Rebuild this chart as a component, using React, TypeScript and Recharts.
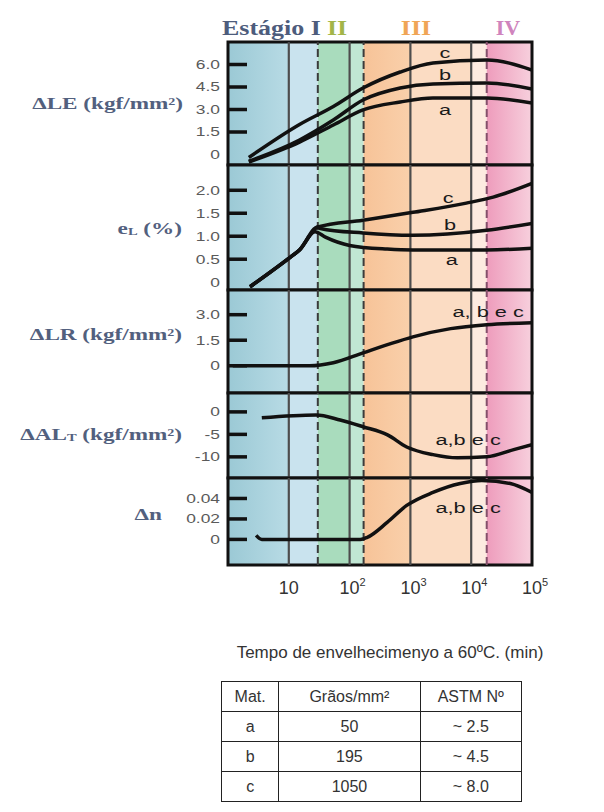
import React from 'react'
import { LineChart, Line, XAxis, YAxis, ReferenceArea, ReferenceLine, ReferenceDot } from 'recharts'

// ---- values (time in minutes, log axis) ----
const xTicks = [10, 100, 1000, 10000, 100000]
const decadeLines = [10, 100, 1000, 10000]
const stageEdges = [30, 170, 18000]
const bandEdges = [1, 10, 30, 100, 170, 1000, 10000, 18000, 100000]

// ΔLE (kgf/mm²)
const leTime = [2.2, 15, 54, 166, 680, 2350, 18000, 100000]
const leA = [-0.5, 0.83, 1.97, 2.97, 3.5, 3.77, 3.77, 3.43]
const leB = [-0.45, 0.97, 2.3, 3.63, 4.43, 4.7, 4.77, 4.37]
const leC = [-0.2, 2.0, 3.2, 4.43, 5.5, 6.1, 6.3, 5.63]

// eL (%)
const elTimeA = [2.3, 10.5, 15, 27, 40, 100, 415, 1100, 18000, 100000]
const elA = [-0.1, 0.54, 0.7, 1.1, 0.98, 0.8, 0.72, 0.7, 0.7, 0.74]
const elTimeB = [2.3, 10.5, 15, 30, 33, 166, 1100, 18000, 100000]
const elB = [-0.1, 0.54, 0.7, 1.2, 1.17, 1.07, 1.02, 1.13, 1.28]
const elTimeC = [2.3, 10.5, 15, 30, 166, 1100, 8300, 23000, 100000]
const elC = [-0.1, 0.54, 0.7, 1.2, 1.35, 1.52, 1.72, 1.85, 2.15]

// ΔLR (kgf/mm²), a, b e c
const lrTime = [1.2, 22, 54, 166, 420, 1100, 4600, 18000, 100000]
const lrAll = [0, 0, 0.18, 0.76, 1.24, 1.7, 2.18, 2.41, 2.53]

// ΔALT (kgf/mm²), a, b e c
const alTime = [3.6, 28, 70, 166, 420, 870, 2350, 5900, 18000, 50000, 100000]
const alAll = [-1.33, -0.7, -1.8, -3.3, -5.1, -7.8, -9.5, -10.2, -10, -8.4, -7.3]

// Δn, a, b e c
const nTime = [2.9, 3.6, 150, 195, 415, 870, 2350, 6600, 15000, 44000, 100000]
const nAll = [0.004, 0, 0, 0.002, 0.0166, 0.0332, 0.0459, 0.0546, 0.0576, 0.0546, 0.0459]

// curve annotations [text, time, value]
const leNotes: [string, number, number][] = [['c', 3700, 6.77], ['b', 3700, 5.3], ['a', 3700, 2.97]]
const elNotes: [string, number, number][] = [['c', 4200, 1.83], ['b', 4500, 1.24], ['a', 4800, 0.48]]
const lrNotes: [string, number, number][] = [['a, b e c', 19000, 3.18]]
const alNotes: [string, number, number][] = [['a,b e c', 8900, -6.2]]
const nNotes: [string, number, number][] = [['a,b e c', 8900, 0.031]]

// table
const tableHead = ['Mat.', 'Grãos/mm²', 'ASTM Nº']
const materials = ['a', 'b', 'c']
const grains = [50, 195, 1050]
const astm = [2.5, 4.5, 8.0]

const SERIF = '"Liberation Serif", "Times New Roman", serif'
const SANS = '"Liberation Sans", Arial, sans-serif'
const SX = 1.45 // the scan is stretched sideways
const INK = '#111'
const PLOT_LEFT = 228
const PLOT_RIGHT = 532

function merge(series: { key: string; t: number[]; v: number[] }[]) {
  const map = new Map<number, any>()
  series.forEach(s => s.t.forEach((t, i) => {
    const row = map.get(t) ?? { t }
    row[s.key] = s.v[i]
    map.set(t, row)
  }))
  return [...map.values()].sort((p, q) => p.t - q.t)
}

const panels = [
  {
    id: 'le', top: 42, bottom: 165, domain: [-0.7, 7.5], ticks: [0, 1.5, 3, 4.5, 6], digits: 1, zeroMark: false,
    keys: ['a', 'b', 'c'], notes: leNotes,
    rows: merge([{ key: 'a', t: leTime, v: leA }, { key: 'b', t: leTime, v: leB }, { key: 'c', t: leTime, v: leC }]),
  },
  {
    id: 'el', top: 165, bottom: 290, domain: [-0.17, 2.55], ticks: [0, 0.5, 1, 1.5, 2], digits: 1, zeroMark: false,
    keys: ['a', 'b', 'c'], notes: elNotes,
    rows: merge([{ key: 'a', t: elTimeA, v: elA }, { key: 'b', t: elTimeB, v: elB }, { key: 'c', t: elTimeC, v: elC }]),
  },
  {
    id: 'lr', top: 290, bottom: 393, domain: [-1.6, 4.45], ticks: [0, 1.5, 3], digits: 1, zeroMark: true,
    keys: ['all'], notes: lrNotes, rows: merge([{ key: 'all', t: lrTime, v: lrAll }]),
  },
  {
    id: 'al', top: 393, bottom: 478, domain: [-14.7, 4.2], ticks: [-10, -5, 0], digits: 0, zeroMark: true,
    keys: ['all'], notes: alNotes, rows: merge([{ key: 'all', t: alTime, v: alAll }]),
  },
  {
    id: 'n', top: 478, bottom: 565, domain: [-0.025, 0.06], ticks: [0, 0.02, 0.04], digits: 2, zeroMark: true,
    keys: ['all'], notes: nNotes, rows: merge([{ key: 'all', t: nTime, v: nAll }]),
  },
]

function YTick(props: any) {
  const { x, y, payload, digits } = props
  const v = payload.value
  const text = v === 0 ? '0' : v.toFixed(digits)
  return (
    <text transform={`translate(${x} ${y}) scale(${SX} 1)`} textAnchor="end" dominantBaseline="central"
      fontFamily={SANS} fontSize={12} fill="#5a5a5a">{text}</text>
  )
}

function XTick({ x, y, payload }: any) {
  const e = Math.round(Math.log10(payload.value))
  return (
    <g fontFamily={SANS} fill="#333">
      <text x={x} y={y + 29} textAnchor="middle" fontSize={18}>10</text>
      {e > 1 && <text x={x + 10} y={y + 21} fontSize={11}>{e}</text>}
    </g>
  )
}

const bandFill = (id: string) => [
  `url(#${id}-blue)`, '#c9e3ee', '#a9dcbd', '#c0e6d3', `url(#${id}-orange)`, '#fbdcc3', '#fdebe0', `url(#${id}-pink)`,
]

function Panel({ p, last }: any) {
  const plotH = p.bottom - p.top
  const h = plotH + 2 + (last ? 40 : 2)
  const fills = bandFill(p.id)
  return (
    <div style={{ position: 'absolute', left: 0, top: p.top - 2 }}>
      <LineChart width={604} height={h} data={p.rows}
        margin={{ top: 2, right: 604 - PLOT_RIGHT, bottom: last ? 0 : 2, left: 0 }}>
        <defs>
          <linearGradient id={`${p.id}-blue`} x1="0" y1="0" x2="1" y2="0">
            <stop offset="0%" stopColor="#9bc9d5" />
            <stop offset="100%" stopColor="#b8dbe5" />
          </linearGradient>
          <linearGradient id={`${p.id}-orange`} x1="0" y1="0" x2="1" y2="0">
            <stop offset="0%" stopColor="#f7c398" />
            <stop offset="100%" stopColor="#f9d0ab" />
          </linearGradient>
          <linearGradient id={`${p.id}-pink`} x1="0" y1="0" x2="1" y2="0">
            <stop offset="0%" stopColor="#ee9cbc" />
            <stop offset="100%" stopColor="#f7d0dd" />
          </linearGradient>
        </defs>
        <XAxis type="number" dataKey="t" scale="log" domain={[1, 100000]} allowDataOverflow hide={!last}
          ticks={xTicks} interval={0} height={40} tickSize={0} tickMargin={0} tickLine={false} axisLine={false}
          tick={(tp: any) => <XTick {...tp} />} />
        <YAxis type="number" domain={p.domain} ticks={p.ticks} interval={0} allowDataOverflow width={PLOT_LEFT}
          tickSize={0} tickMargin={8} tickLine={false} axisLine={false}
          tick={(tp: any) => <YTick {...tp} digits={p.digits} />} />
        {fills.map((f, i) => (
          <ReferenceArea key={i} x1={bandEdges[i]} x2={bandEdges[i + 1]} fill={f} fillOpacity={1} stroke="none" />
        ))}
        {decadeLines.map(t => <ReferenceLine key={t} x={t} stroke="#4d4d4d" strokeWidth={2.2} />)}
        {stageEdges.map((t, i) => (
          <ReferenceLine key={t} x={t} stroke={i === 2 ? '#85506b' : '#3b3b3b'} strokeWidth={2} strokeDasharray="8 4" />
        ))}
        {p.keys.map((k: string) => (
          <Line key={k} dataKey={k} type="monotone" stroke={INK} strokeWidth={3.5} dot={false}
            connectNulls isAnimationActive={false} />
        ))}
        {p.notes.map(([text, t, v]: [string, number, number]) => (
          <ReferenceDot key={text} x={t} y={v} r={0}
            shape={(sp: any) => (
              <text transform={`translate(${sp.cx} ${sp.cy}) scale(${SX} 1)`} textAnchor="middle"
                dominantBaseline="central" fontFamily={SANS} fontSize={15} fill="#1a1a1a">{text}</text>
            )} />
        ))}
        <ReferenceArea x1={1} x2={100000} fill="none" stroke={INK} strokeWidth={3} />
      </LineChart>
    </div>
  )
}

// the thick inner tick dashes on the left frame, placed with each panel's own linear y mapping
function TickMarks() {
  return (
    <g fill={INK}>
      {panels.flatMap(p => p.ticks
        .filter(v => p.zeroMark || v !== 0)
        .map(v => {
          const y = p.top + ((p.domain[1] - v) / (p.domain[1] - p.domain[0])) * (p.bottom - p.top)
          return <rect key={`${p.id}${v}`} x={PLOT_LEFT} y={y - 1.75} width={19} height={3.5} />
        }))}
    </g>
  )
}

function Stretch({ x, y, anchor = 'start', sx = SX, children, ...rest }: any) {
  return (
    <text transform={`translate(${x} ${y}) scale(${sx} 1)`} textAnchor={anchor} dominantBaseline="central" {...rest}>
      {children}
    </text>
  )
}

const labelStyle = { fontFamily: SERIF, fontWeight: 700, fontSize: 16, fill: '#52607e' }

export default function App() {
  const cell: React.CSSProperties = { border: '1.5px solid #222', height: 29, padding: 0, textAlign: 'center' }
  return (
    <div style={{ position: 'absolute', left: 0, top: 0, width: 604, height: 812, background: '#fff' }}>
      {panels.map((p, i) => <Panel key={p.id} p={p} last={i === panels.length - 1} />)}

      <svg width={604} height={812} style={{ position: 'absolute', left: 0, top: 0, pointerEvents: 'none' }}>
        <TickMarks />

        {/* stage headings */}
        <g fontFamily={SERIF} fontWeight={700} fontSize={20}>
          <Stretch x={222} y={28} sx={1.3} fill="#4d5c7c">Estágio I</Stretch>
          <Stretch x={337} y={28} sx={1.3} anchor="middle" fill="#a3b548">II</Stretch>
          <Stretch x={416} y={28} sx={1.3} anchor="middle" fill="#f0a556">III</Stretch>
          <Stretch x={508} y={28} sx={1.1} anchor="middle" fill="#cf84bd">IV</Stretch>
        </g>

        {/* panel titles */}
        <Stretch x={183} y={103} anchor="end" {...labelStyle}>ΔLE (kgf/mm²)</Stretch>
        <Stretch x={182} y={228} anchor="end" {...labelStyle}>
          <tspan>e</tspan><tspan fontSize={10} dy={4}>L</tspan><tspan dy={-4}> (%)</tspan>
        </Stretch>
        <Stretch x={182} y={334} anchor="end" {...labelStyle}>ΔLR (kgf/mm²)</Stretch>
        <Stretch x={182} y={434} anchor="end" {...labelStyle}>
          <tspan>ΔAL</tspan><tspan fontSize={10} dy={4}>T</tspan><tspan dy={-4}> (kgf/mm²)</tspan>
        </Stretch>
        <Stretch x={162} y={514} anchor="end" {...labelStyle}>Δn</Stretch>

        {/* x title */}
        <text x={390} y={652} textAnchor="middle" dominantBaseline="central" fontFamily={SANS} fontSize={17} fill="#333">
          Tempo de envelhecimenyo a 60ºC. (min)
        </text>
      </svg>

      <table style={{ position: 'absolute', left: 221, top: 681, width: 301, borderCollapse: 'collapse', fontFamily: SANS, fontSize: 16, color: '#333' }}>
        <tbody>
          <tr>
            {tableHead.map((h, i) => <td key={h} style={{ ...cell, width: [57, 142, 102][i] }}>{h}</td>)}
          </tr>
          {materials.map((m, i) => (
            <tr key={m}>
              <td style={cell}>{m}</td>
              <td style={cell}>{grains[i]}</td>
              <td style={cell}>~ {astm[i].toFixed(1)}</td>
            </tr>
          ))}
        </tbody>
      </table>
    </div>
  )
}
